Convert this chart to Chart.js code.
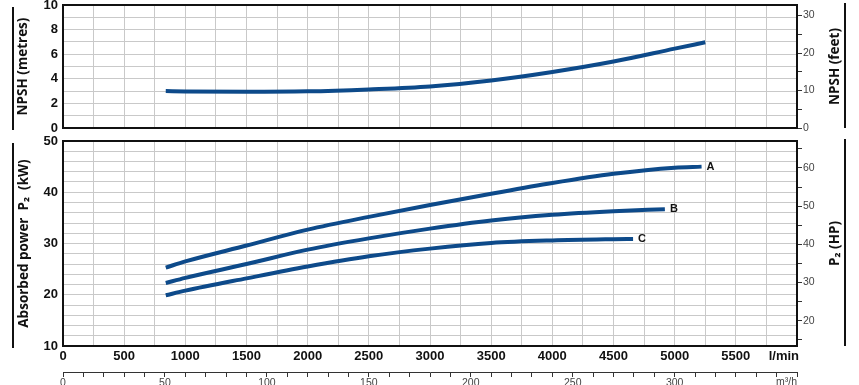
<!DOCTYPE html>
<html>
<head>
<meta charset="UTF-8">
<title>NPSH / Absorbed power</title>
<script src="https://cdn.jsdelivr.net/npm/chart.js@4.4.1/dist/chart.umd.min.js"></script>
<style>
  body { margin: 0; background: #fff; }
  #wrap { position: relative; width: 859px; height: 385px; }
  #npshCanvas { position: absolute; left: 0; top: 0; }
  #powerCanvas { position: absolute; left: 0; top: 135px; }
</style>
</head>
<body>
<div id="wrap">
  <canvas id="npshCanvas" width="859" height="135"></canvas>
  <canvas id="powerCanvas" width="859" height="250"></canvas>
</div>
<script>
// flow in l/min, NPSH in metres
const npshFlow   = [840, 1000, 1500, 2000, 2500, 3000, 3500, 4000, 4500, 5000, 5250];
const npshMetres = [3.0, 2.97, 2.94, 2.98, 3.14, 3.38, 3.86, 4.55, 5.4, 6.45, 6.97];

// absorbed power P2 in kW, one curve per impeller
const flowA  = [840, 1000, 1500, 2000, 2500, 3000, 3500, 4000, 4500, 5000, 5220];
const powerA = [25.3, 26.5, 29.6, 32.7, 35.2, 37.5, 39.7, 41.8, 43.6, 44.8, 45.0];
const flowB  = [840, 1000, 1500, 2000, 2500, 3000, 3500, 4000, 4500, 4920];
const powerB = [22.3, 23.3, 26.0, 28.8, 31.0, 32.9, 34.5, 35.6, 36.3, 36.7];
const flowC  = [840, 1000, 1500, 2000, 2500, 3000, 3500, 4000, 4500, 4660];
const powerC = [19.9, 20.8, 23.2, 25.5, 27.5, 29.0, 30.1, 30.6, 30.85, 30.9];
const curveNames = ['A', 'B', 'C'];

const M_TO_FT = 3.28084;
const KW_TO_HP = 1.34102;
const LMIN_TO_M3H = 0.06;

const curveColor = '#0d4a8a';
const gridColor = '#c9c9c9';
const narrow = '"Liberation Sans Narrow", "Arial Narrow", sans-serif';
const titleFont = { family: '"Open Sans", sans-serif', size: 13.5, weight: 'bold' };

function pts(xs, ys) { return xs.map((x, i) => ({ x: x, y: ys[i] })); }

function curve(xs, ys) {
  return {
    data: pts(xs, ys),
    borderColor: curveColor,
    borderWidth: 4,
    pointRadius: 0,
    cubicInterpolationMode: 'monotone',
    fill: false
  };
}

// fixed width for the vertical axes, no extra room for the end labels
function fixWidth(w) {
  return s => { s.width = w; s.paddingTop = 0; s.paddingBottom = 0; };
}
function fixHeight(h) {
  return s => { s.height = h; s.paddingLeft = 0; s.paddingRight = 0; };
}

// frame, side bars, right titles, units and curve letters
const frame = {
  id: 'frame',
  afterDraw(chart, args, opts) {
    const ctx = chart.ctx;
    const a = chart.chartArea;
    ctx.save();
    ctx.strokeStyle = '#111';
    ctx.lineWidth = 2;
    ctx.strokeRect(a.left, a.top, a.right - a.left, a.bottom - a.top);

    ctx.fillStyle = '#111';
    ctx.fillRect(12, a.top + 2, 2, a.bottom - a.top);
    ctx.fillRect(844, a.top - 2, 2, a.bottom - a.top + 2);

    ctx.save();
    ctx.font = 'bold 13.5px "Open Sans", sans-serif';
    ctx.textAlign = 'center';
    ctx.textBaseline = 'middle';
    ctx.translate(835, (a.top + a.bottom) / 2);
    ctx.rotate(-Math.PI / 2);
    ctx.fillText(opts.rightTitle, 0, 0);
    ctx.restore();

    if (opts.letters) {
      ctx.font = 'bold 11px "Liberation Sans", Arial, sans-serif';
      ctx.textAlign = 'left';
      ctx.textBaseline = 'middle';
      opts.letters.forEach((name, i) => {
        const meta = chart.getDatasetMeta(i);
        const p = meta.data[meta.data.length - 1];
        ctx.fillText(name, p.x + 5, p.y);
      });
    }
    if (opts.units) {
      const sx = chart.scales.x, s2 = chart.scales.x2;
      ctx.textAlign = 'right';
      ctx.textBaseline = 'middle';
      ctx.font = 'bold 13px ' + narrow;
      ctx.fillText('l/min', a.right + 2, sx.top + 10);
      ctx.fillStyle = '#444';
      ctx.font = '10.5px ' + narrow;
      ctx.fillText('m³/h', a.right, s2.top + 10);
    }
    ctx.restore();
  }
};

const baseOpts = {
  responsive: false,
  animation: false,
  devicePixelRatio: 1,
  events: []
};

new Chart(document.getElementById('npshCanvas'), {
  type: 'line',
  data: { datasets: [curve(npshFlow, npshMetres)] },
  options: Object.assign({}, baseOpts, {
    layout: { padding: { top: 5, left: 0, right: 0, bottom: 0 } },
    plugins: { legend: { display: false }, tooltip: { enabled: false }, frame: { rightTitle: 'NPSH (feet)' } },
    scales: {
      x: {
        type: 'linear', min: 0, max: 6000,
        ticks: { display: false, stepSize: 250 },
        grid: { color: gridColor, drawTicks: false },
        border: { display: false },
        afterFit: fixHeight(7)
      },
      y: {
        position: 'left', min: 0, max: 10,
        ticks: { stepSize: 1, autoSkip: false, padding: 5, color: '#111', font: { family: narrow, size: 13, weight: 'bold' },
                 callback: v => (v % 2 === 0 ? v : '') },
        grid: { color: gridColor, drawTicks: false },
        border: { display: false },
        title: { display: true, text: 'NPSH (metres)', color: '#111', font: titleFont, padding: { top: 15, bottom: 0 } },
        afterFit: fixWidth(63)
      },
      y2: {
        position: 'right', min: 0, max: 10 * M_TO_FT,
        ticks: { stepSize: 5, includeBounds: false, autoSkip: false, padding: 1, color: '#444', font: { family: narrow, size: 10.5 },
                 callback: v => (v % 10 === 0 ? v : '') },
        grid: { drawOnChartArea: false, tickLength: 5, color: '#333' },
        border: { display: false },
        afterFit: fixWidth(62)
      }
    }
  }),
  plugins: [frame]
});

new Chart(document.getElementById('powerCanvas'), {
  type: 'line',
  data: { datasets: [curve(flowA, powerA), curve(flowB, powerB), curve(flowC, powerC)] },
  options: Object.assign({}, baseOpts, {
    layout: { padding: { top: 6, left: 0, right: 0, bottom: 0 } },
    plugins: { legend: { display: false }, tooltip: { enabled: false },
               frame: { rightTitle: 'P₂ (HP)', letters: curveNames, units: true } },
    scales: {
      x: {
        type: 'linear', min: 0, max: 6000, weight: 0,
        ticks: { stepSize: 250, autoSkip: false, maxRotation: 0, padding: 3, color: '#111',
                 font: { family: narrow, size: 13, weight: 'bold' },
                 callback: v => (v % 500 === 0 && v < 6000 ? v : '') },
        grid: { color: gridColor, drawTicks: false },
        border: { display: false },
        afterFit: fixHeight(26)
      },
      x2: {
        type: 'linear', position: 'bottom', min: 0, max: 6000 * LMIN_TO_M3H, weight: 1,
        ticks: { stepSize: 10, includeBounds: false, autoSkip: false, maxRotation: 0, padding: 0, color: '#444',
                 font: { family: narrow, size: 10.5 },
                 callback: v => (v % 50 === 0 && v <= 300 ? v : '') },
        grid: { drawOnChartArea: false, tickLength: 5, color: '#333' },
        border: { display: true, color: '#333', width: 1 },
        afterFit: fixHeight(13)
      },
      y: {
        position: 'left', min: 10, max: 50,
        ticks: { stepSize: 2, autoSkip: false, padding: 5, color: '#111', font: { family: narrow, size: 13, weight: 'bold' },
                 callback: v => (v % 10 === 0 ? v : '') },
        grid: { color: gridColor, drawTicks: false },
        border: { display: false },
        title: { display: true, text: 'Absorbed power  P₂  (kW)', color: '#111', font: titleFont, padding: { top: 16, bottom: 0 } },
        afterFit: fixWidth(63)
      },
      y2: {
        position: 'right', min: 10 * KW_TO_HP, max: 50 * KW_TO_HP,
        ticks: { stepSize: 5, includeBounds: false, autoSkip: false, padding: 1, color: '#444', font: { family: narrow, size: 10.5 },
                 callback: v => (v % 10 === 0 ? v : '') },
        grid: { drawOnChartArea: false, tickLength: 5, color: '#333' },
        border: { display: false },
        afterFit: fixWidth(62)
      }
    }
  }),
  plugins: [frame]
});
</script>
</body>
</html>
